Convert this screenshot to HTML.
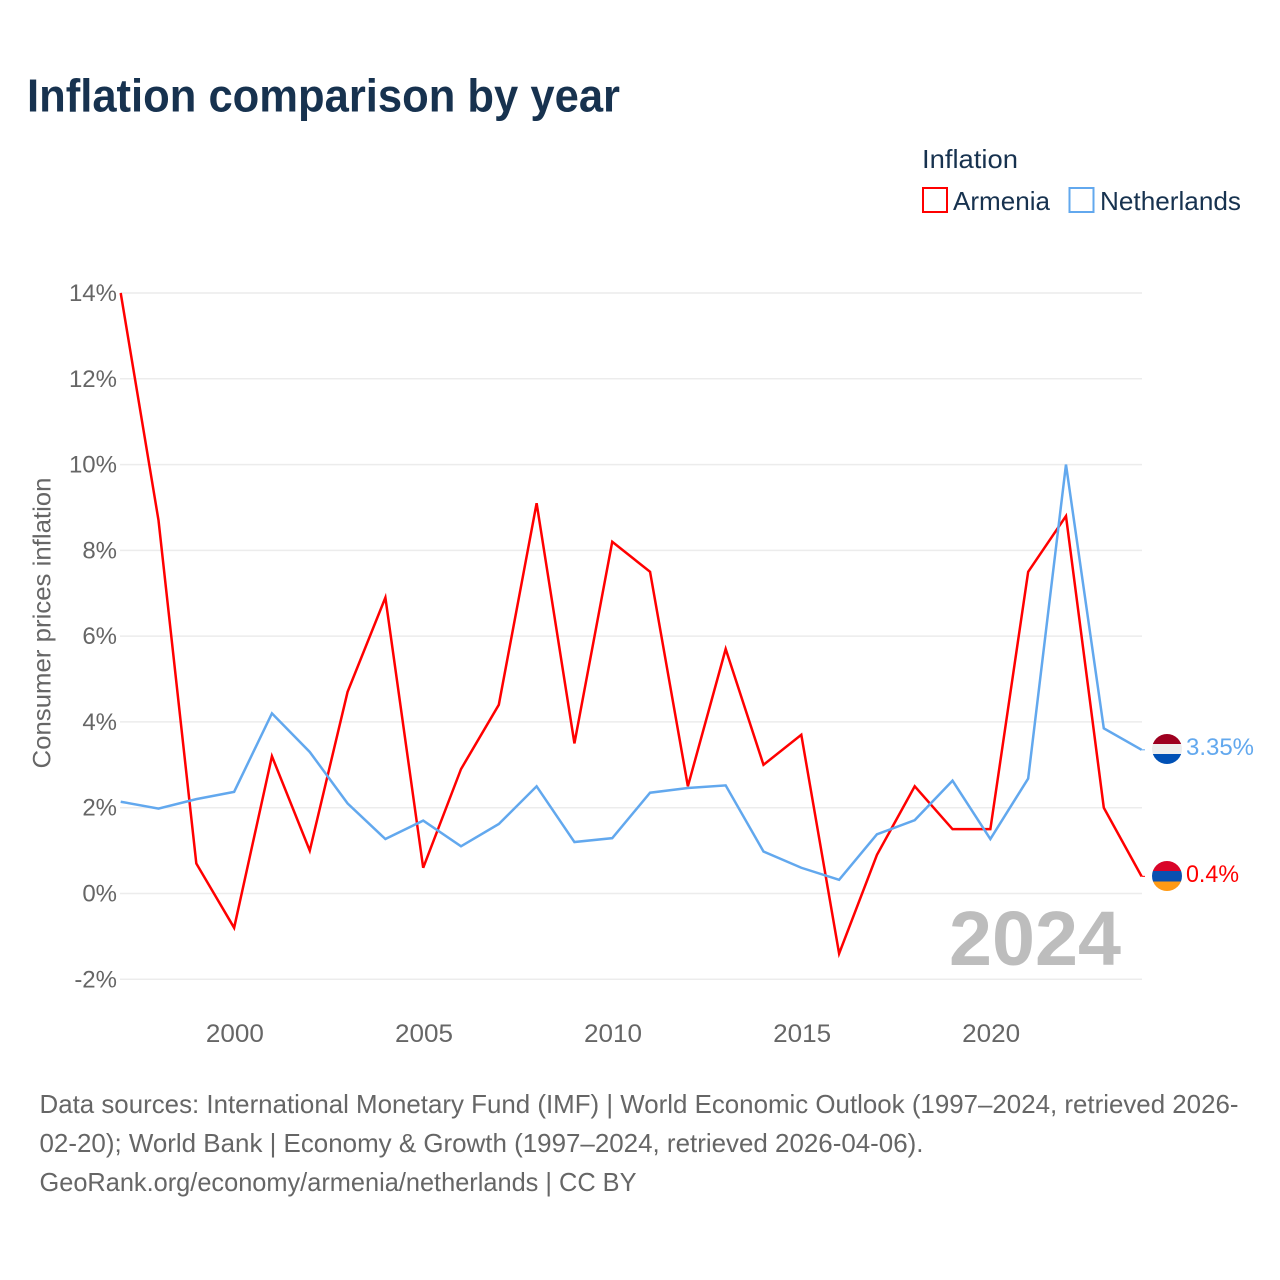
<!DOCTYPE html>
<html lang="en">
<head>
<meta charset="utf-8">
<title>Inflation comparison by year</title>
<style>
html,body{margin:0;padding:0;background:#fff;}
svg{display:block;font-family:"Liberation Sans",Arial,sans-serif;}
</style>
</head>
<body>
<svg id="chart" xmlns="http://www.w3.org/2000/svg" width="1280" height="1280" viewBox="0 0 1280 1280">
  <rect width="1280" height="1280" fill="#ffffff"/>
  <text x="27" y="111.500" font-size="46" font-weight="700" fill="#17324f" textLength="593" lengthAdjust="spacingAndGlyphs">Inflation comparison by year</text>
  <g>
    <text x="922" y="168" font-size="26" fill="#17324f" textLength="96" lengthAdjust="spacingAndGlyphs">Inflation</text>
    <rect x="923" y="188" width="24" height="24" fill="#fff" stroke="#ff0000" stroke-width="2"/>
    <text x="953" y="210" font-size="26" fill="#17324f" textLength="97" lengthAdjust="spacingAndGlyphs">Armenia</text>
    <rect x="1069.500" y="188" width="24" height="24" fill="#fff" stroke="#62a8ee" stroke-width="2"/>
    <text x="1100" y="210" font-size="26" fill="#17324f" textLength="141" lengthAdjust="spacingAndGlyphs">Netherlands</text>
  </g>
  <g id="grid"></g>
  <g id="yticks"></g>
  <g id="xticks"></g>
  <text transform="translate(50.500,623) rotate(-90)" text-anchor="middle" font-size="25" fill="#666666" textLength="291" lengthAdjust="spacingAndGlyphs">Consumer prices inflation</text>
  <text x="949" y="965" font-size="77" font-weight="700" fill="#bdbdbd" textLength="172" lengthAdjust="spacingAndGlyphs">2024</text>
  <g id="series"></g>
  <g>
    <clipPath id="nlClip"><circle cx="1167" cy="749" r="15"/></clipPath>
    <g clip-path="url(#nlClip)">
      <rect x="1150" y="734" width="34" height="10" fill="#9e0020"/>
      <rect x="1150" y="744" width="34" height="10" fill="#eeeeee"/>
      <rect x="1150" y="754" width="34" height="11" fill="#0050b5"/>
    </g>
    <text x="1186" y="755" font-size="24" fill="#62a8ee" textLength="68" lengthAdjust="spacingAndGlyphs">3.35%</text>
  </g>
  <g>
    <clipPath id="amClip"><circle cx="1167" cy="876" r="15"/></clipPath>
    <g clip-path="url(#amClip)">
      <rect x="1150" y="860" width="34" height="11" fill="#d90429"/>
      <rect x="1150" y="871" width="34" height="10.500" fill="#0a50b0"/>
      <rect x="1150" y="881.500" width="34" height="11" fill="#ff9a14"/>
    </g>
    <text x="1186" y="882" font-size="24" fill="#ff0000" textLength="53" lengthAdjust="spacingAndGlyphs">0.4%</text>
  </g>
  <g font-size="26" fill="#666666">
    <text x="39.500" y="1113" textLength="1199" lengthAdjust="spacingAndGlyphs">Data sources: International Monetary Fund (IMF) | World Economic Outlook (1997–2024, retrieved 2026-</text>
    <text x="39.500" y="1152" textLength="884" lengthAdjust="spacingAndGlyphs">02-20); World Bank | Economy &amp; Growth (1997–2024, retrieved 2026-04-06).</text>
    <text x="39.500" y="1191" textLength="597" lengthAdjust="spacingAndGlyphs">GeoRank.org/economy/armenia/netherlands | CC BY</text>
  </g>
</svg>
<script>
const years = [1997,1998,1999,2000,2001,2002,2003,2004,2005,2006,2007,2008,2009,2010,2011,2012,2013,2014,2015,2016,2017,2018,2019,2020,2021,2022,2023,2024];
const armeniaValues = [14,8.7,0.7,-0.8,3.2,1.0,4.7,6.9,0.6,2.9,4.4,9.1,3.5,8.2,7.5,2.5,5.7,3.0,3.7,-1.4,0.9,2.5,1.5,1.5,7.5,8.8,2.0,0.4];
const netherlandsValues = [2.14,1.98,2.2,2.37,4.2,3.3,2.1,1.27,1.7,1.1,1.62,2.5,1.2,1.29,2.35,2.46,2.52,0.98,0.6,0.32,1.38,1.71,2.63,1.27,2.68,10.0,3.85,3.35];
const yTickValues = [-2,0,2,4,6,8,10,12,14];
const xTickValues = [2000,2005,2010,2015,2020];

const NS = 'http://www.w3.org/2000/svg';
function xScale(year){ return 120.7 + (year - 1997) * (1141.6 - 120.7) / 27; }
function yScale(v){ return 893.5 - v * (893.5 - 293) / 14; }
function make(tag, attrs, parent){
  const el = document.createElementNS(NS, tag);
  for (const k in attrs) el.setAttribute(k, attrs[k]);
  parent.appendChild(el);
  return el;
}
const grid = document.getElementById('grid');
const yticks = document.getElementById('yticks');
const xticks = document.getElementById('xticks');
const series = document.getElementById('series');

yTickValues.forEach(function(v){
  const line = make('line', {x1:120, x2:1142, y1:yScale(v), y2:yScale(v), stroke:'#ececec', 'stroke-width':1.500}, grid);
  
  
  const t = make('text', {x:117, y:yScale(v)+8, 'text-anchor':'end', 'font-size':24, fill:'#666666'}, yticks);
  t.textContent = v + '%';
  
  
});
xTickValues.forEach(function(y){
  const t = make('text', {x:xScale(y)+0.8, y:1042, 'text-anchor':'middle', 'font-size':25, fill:'#666666', textLength:58, lengthAdjust:'spacingAndGlyphs'}, xticks);
  t.textContent = String(y);
  
  
});
function linePoints(values){
  return values.map(function(v,i){ return xScale(years[i]).toFixed(2) + ',' + yScale(v).toFixed(2); }).join(' ');
}
function drawConnector(values, color){
  const last = values[values.length-1];
  const c = make('line', {x1:xScale(years[years.length-1]), x2:1145, y1:yScale(last), y2:yScale(last), stroke:color, 'stroke-width':1}, series);
  
  
}
drawConnector(armeniaValues, '#ff0000');
drawConnector(netherlandsValues, '#62a8ee');
const armeniaLine = make('polyline', {points:linePoints(armeniaValues), fill:'none', stroke:'#ff0000', 'stroke-width':2.500, 'stroke-linejoin':'miter'}, series);


const netherlandsLine = make('polyline', {points:linePoints(netherlandsValues), fill:'none', stroke:'#62a8ee', 'stroke-width':2.500, 'stroke-linejoin':'miter'}, series);


</script>
</body>
</html>
